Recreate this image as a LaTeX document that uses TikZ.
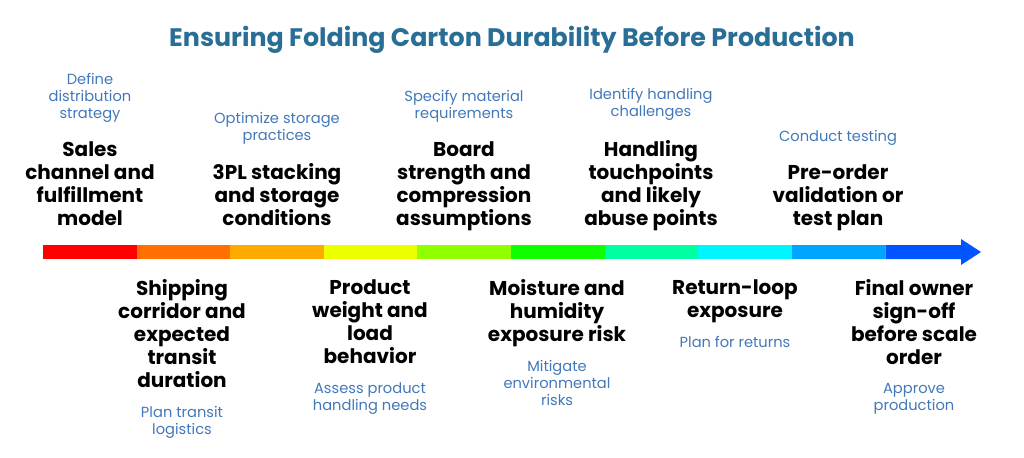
\documentclass[tikz,border=0pt]{standalone}
\usepackage{fontspec}
\setmainfont{Poppins}
\usetikzlibrary{positioning}
\definecolor{titleblue}{RGB}{41,110,150}
\definecolor{noteblue}{RGB}{66,120,186}
\definecolor{segA}{HTML}{FF0000}
\definecolor{segB}{HTML}{FF7000}
\definecolor{segC}{HTML}{FFAA00}
\definecolor{segD}{HTML}{EEFF00}
\definecolor{segE}{HTML}{90FF00}
\definecolor{segF}{HTML}{10FF00}
\definecolor{segG}{HTML}{00FFA0}
\definecolor{segH}{HTML}{00F5FF}
\definecolor{segI}{HTML}{00A5FF}
\definecolor{segJ}{HTML}{0055FF}
\tikzset{
    stage/.style={font=\bfseries\fontsize{15}{17.25}\selectfont, align=center,
                  inner sep=0pt, text=black, execute at end node=\strut},
    note/.style={font=\fontsize{11}{12.75}\selectfont, align=center,
                 inner sep=0pt, text=noteblue},
    headline/.style={font=\bfseries\fontsize{19}{22}\selectfont, text=titleblue}}

\begin{document}
\begin{tikzpicture}[x=0.75pt, y=-0.75pt, node distance=14.5pt]
    \useasboundingbox (0,0) rectangle (1024,457);
    \node[headline] (title) at (512,40)
        {Ensuring Folding Carton Durability Before Production};

    % timeline bar
    \foreach \c [count=\i from 0] in {segA,segB,segC,segD,segE,segF,segG,segH,segI}
        \fill[\c] (43+\i*93.6,245) rectangle ++(93.6,14);
    \fill[segJ] (885.4,245) -- (961,245) -- (961,239) -- (981,252)
        -- (961,265) -- (961,259) -- (885.4,259) -- cycle;

    % stages above the bar
    \node[stage, anchor=south] (sales) at (90,233)
        {Sales\\channel and\\fulfillment\\model};
    \node[note, above=of sales] (salesnote) {Define\\distribution\\strategy};

    \node[stage, anchor=south] (storage) at (277,233)
        {3PL stacking\\and storage\\conditions};
    \node[note, above=of storage] (storagenote) {Optimize storage\\practices};

    \node[stage, anchor=south] (board) at (464,233)
        {Board\\strength and\\compression\\assumptions};
    \node[note, above=of board] (boardnote) {Specify material\\requirements};

    \node[stage, anchor=south] (handling) at (651,233)
        {Handling\\touchpoints\\and likely\\abuse points};
    \node[note, above=of handling] (handlingnote) {Identify handling\\challenges};

    \node[stage, anchor=south] (preorder) at (838,233)
        {Pre-order\\validation or\\test plan};
    \node[note, above=of preorder] (preordernote) {Conduct testing};

    % stages below the bar
    \node[stage, anchor=north] (shipping) at (182,279)
        {Shipping\\corridor and\\expected\\transit\\duration};
    \node[note, below=9pt of shipping] (shippingnote) {Plan transit\\logistics};

    \node[stage, anchor=north] (weight) at (370,279)
        {Product\\weight and\\load\\behavior};
    \node[note, below=9pt of weight] (weightnote) {Assess product\\handling needs};

    \node[stage, anchor=north] (moisture) at (557,279)
        {Moisture and\\humidity\\exposure risk};
    \node[note, below=9pt of moisture] (moisturenote) {Mitigate\\environmental\\risks};

    \node[stage, anchor=north] (returns) at (735,279)
        {Return-loop\\exposure};
    \node[note, below=9pt of returns] (returnsnote) {Plan for returns};

    \node[stage, anchor=north] (signoff) at (914,279)
        {Final owner\\sign-off\\before scale\\order};
    \node[note, below=9pt of signoff] (signoffnote) {Approve\\production};
\end{tikzpicture}
\end{document}
